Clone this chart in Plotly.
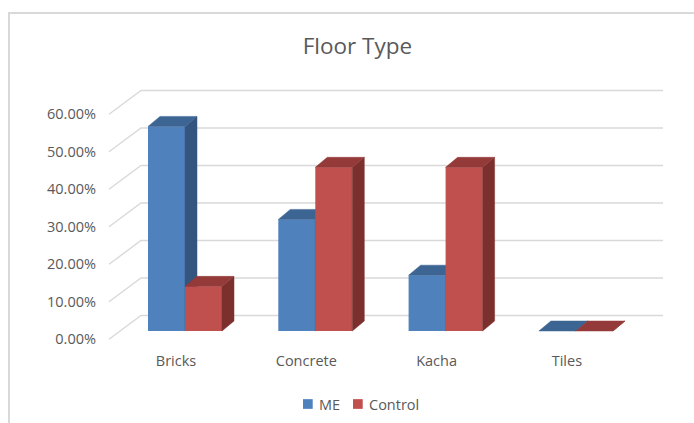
import plotly.graph_objects as go

# ---------------- data ----------------
categories = ["Bricks", "Concrete", "Kacha", "Tiles"]
series_names = ["ME", "Control"]
me_values = [55.0, 30.0, 15.0, 0.0]          # percent
control_values = [12.0, 44.0, 44.0, 0.0]     # percent
y_tick_values = [0, 10, 20, 30, 40, 50, 60]
y_tick_labels = ["0.00%", "10.00%", "20.00%", "30.00%", "40.00%", "50.00%", "60.00%"]
title_text = "Floor Type"

# ---------------- style / geometry ----------------
W, H = 694, 423
TEXT = "#595959"
GRID = "#d9d9d9"
FONT = "Open Sans"

FRONT_COLORS = ["#4F81BD", "#C0504D"]
SIDE_COLORS = ["#34557F", "#7C302E"]
TOP_COLORS = ["#3D6593", "#943B39"]

CLUSTER_X0 = 148.0      # left edge of first bar (px)
CLUSTER_STEP = 130.3    # distance between category clusters (px)
BAR_W = 37.0            # bar width (px)
DEPTH_DX = 12.0         # bar depth, horizontal (px)
DEPTH_DY_PX = 10.0      # bar depth, vertical (px)

BAR_BASE_PX = 331.0     # pixel row of bar bases (front plane)
BAR_SCALE = 3.72        # px per percent on the bar plane
LAB_BASE_PX = 339.3     # pixel row of the 0% label / floor front edge
LAB_SCALE = 3.75        # px per percent on label plane
WALL_BASE_PX = 315.5    # pixel row of 0% on back wall
WALL_X0, WALL_X1 = 141.0, 663.0
SIDE_X0 = 109.0
LABEL_SHIFT = -9.0      # category label offset from cluster centre (px)

# legend layout (px)
LEG_Y = 404.0
LEG_SWATCH = 9.7
LEG_SWATCH_X = [303.0, 353.0]
LEG_TEXT_X = [317.0, 367.0]

# axis ranges (full-canvas axes)
main_y_range = [(LAB_BASE_PX - H) / LAB_SCALE, LAB_BASE_PX / LAB_SCALE]
bar_y_range = [(BAR_BASE_PX - H) / BAR_SCALE, BAR_BASE_PX / BAR_SCALE]
WALL_OFF = (LAB_BASE_PX - WALL_BASE_PX) / LAB_SCALE
DEPTH_DY = DEPTH_DY_PX / BAR_SCALE

fig = go.Figure()

# ---- walls (back gridlines + side diagonals) ----
wx, wy = [], []
for v in y_tick_values:
    wx += [SIDE_X0, WALL_X0, WALL_X1, None]
    wy += [v, v + WALL_OFF, v + WALL_OFF, None]
fig.add_trace(go.Scatter(x=wx, y=wy, mode="lines",
                         line=dict(color=GRID, width=1.4),
                         hoverinfo="skip", showlegend=False,
                         xaxis="x", yaxis="y"))

# ---- 3D bars ----
all_values = [me_values, control_values]
for s, (name, vals) in enumerate(zip(series_names, all_values)):
    xa = "x%d" % (s + 2)
    ya = "y%d" % (s + 2)
    x0s = [CLUSTER_X0 + j * CLUSTER_STEP + s * BAR_W for j in range(len(categories))]
    centers = [x0 + BAR_W / 2 for x0 in x0s]
    # front faces
    fig.add_trace(go.Bar(x=centers, y=vals, width=BAR_W, name=name,
                         marker=dict(color=FRONT_COLORS[s], line=dict(width=0)),
                         xaxis=xa, yaxis=ya, hoverinfo="y", showlegend=False))
    # side and top faces
    sx, sy = [], []
    tx, ty = [], []
    for x0, v in zip(x0s, vals):
        x1 = x0 + BAR_W
        sx += [x1, x1 + DEPTH_DX, x1 + DEPTH_DX, x1, x1, None]
        sy += [0, DEPTH_DY, v + DEPTH_DY, v, 0, None]
        tx += [x0, x1, x1 + DEPTH_DX, x0 + DEPTH_DX, x0, None]
        ty += [v, v, v + DEPTH_DY, v + DEPTH_DY, v, None]
    fig.add_trace(go.Scatter(x=sx, y=sy, mode="lines", fill="toself",
                             fillcolor=SIDE_COLORS[s],
                             line=dict(color=SIDE_COLORS[s], width=0.5),
                             hoverinfo="skip", showlegend=False,
                             xaxis=xa, yaxis=ya))
    fig.add_trace(go.Scatter(x=tx, y=ty, mode="lines", fill="toself",
                             fillcolor=TOP_COLORS[s],
                             line=dict(color=TOP_COLORS[s], width=0.5),
                             hoverinfo="skip", showlegend=False,
                             xaxis=xa, yaxis=ya))

label_x = [CLUSTER_X0 + BAR_W + j * CLUSTER_STEP + LABEL_SHIFT for j in range(len(categories))]

# ---- legend (swatches + labels) ----
shapes = [dict(type="rect", xref="paper", yref="paper",
               x0=9 / W, y0=-0.05, x1=1.05, y1=1 - 13 / H,
               line=dict(color=GRID, width=2), fillcolor="rgba(0,0,0,0)",
               layer="below")]
annotations = []
for s, name in enumerate(series_names):
    shapes.append(dict(type="rect", xref="paper", yref="paper",
                       x0=LEG_SWATCH_X[s] / W, x1=(LEG_SWATCH_X[s] + LEG_SWATCH) / W,
                       y0=1 - (LEG_Y + LEG_SWATCH / 2) / H,
                       y1=1 - (LEG_Y - LEG_SWATCH / 2) / H,
                       line=dict(width=0), fillcolor=FRONT_COLORS[s]))
    annotations.append(dict(text=name, xref="paper", yref="paper",
                            x=LEG_TEXT_X[s] / W, y=1 - LEG_Y / H,
                            xanchor="left", yanchor="middle", showarrow=False,
                            font=dict(family=FONT, size=14.5, color=TEXT)))

hidden = dict(visible=False, fixedrange=True, automargin=False)
fig.update_layout(
    width=W, height=H,
    margin=dict(l=0, r=0, t=0, b=0, pad=0),
    paper_bgcolor="white", plot_bgcolor="rgba(0,0,0,0)",
    font=dict(family=FONT, color=TEXT, size=14.5),
    barmode="overlay",
    showlegend=False,
    title=dict(text=title_text, x=357.4 / W, xanchor="center",
               y=1 - 46 / H, yanchor="middle",
               font=dict(family=FONT, size=22.5, color=TEXT)),
    xaxis=dict(range=[0, W], domain=[0, 1], anchor="free", position=1 - 350 / H,
               tickmode="array", tickvals=label_x, ticktext=categories,
               showgrid=False, zeroline=False, showline=False, ticks="",
               tickfont=dict(family=FONT, size=14.5, color=TEXT),
               fixedrange=True, automargin=False),
    yaxis=dict(range=main_y_range, domain=[0, 1], anchor="free", position=96 / W,
               tickmode="array", tickvals=y_tick_values, ticktext=y_tick_labels,
               showgrid=False, zeroline=False, showline=False, ticks="",
               tickfont=dict(family=FONT, size=14.5, color=TEXT),
               fixedrange=True, automargin=False),
    xaxis2=dict(range=[0, W], overlaying="x", anchor="y2", **hidden),
    yaxis2=dict(range=bar_y_range, overlaying="y", anchor="x2", **hidden),
    xaxis3=dict(range=[0, W], overlaying="x", anchor="y3", **hidden),
    yaxis3=dict(range=bar_y_range, overlaying="y", anchor="x3", **hidden),
    shapes=shapes,
    annotations=annotations,
)

fig.write_html("out.html")
